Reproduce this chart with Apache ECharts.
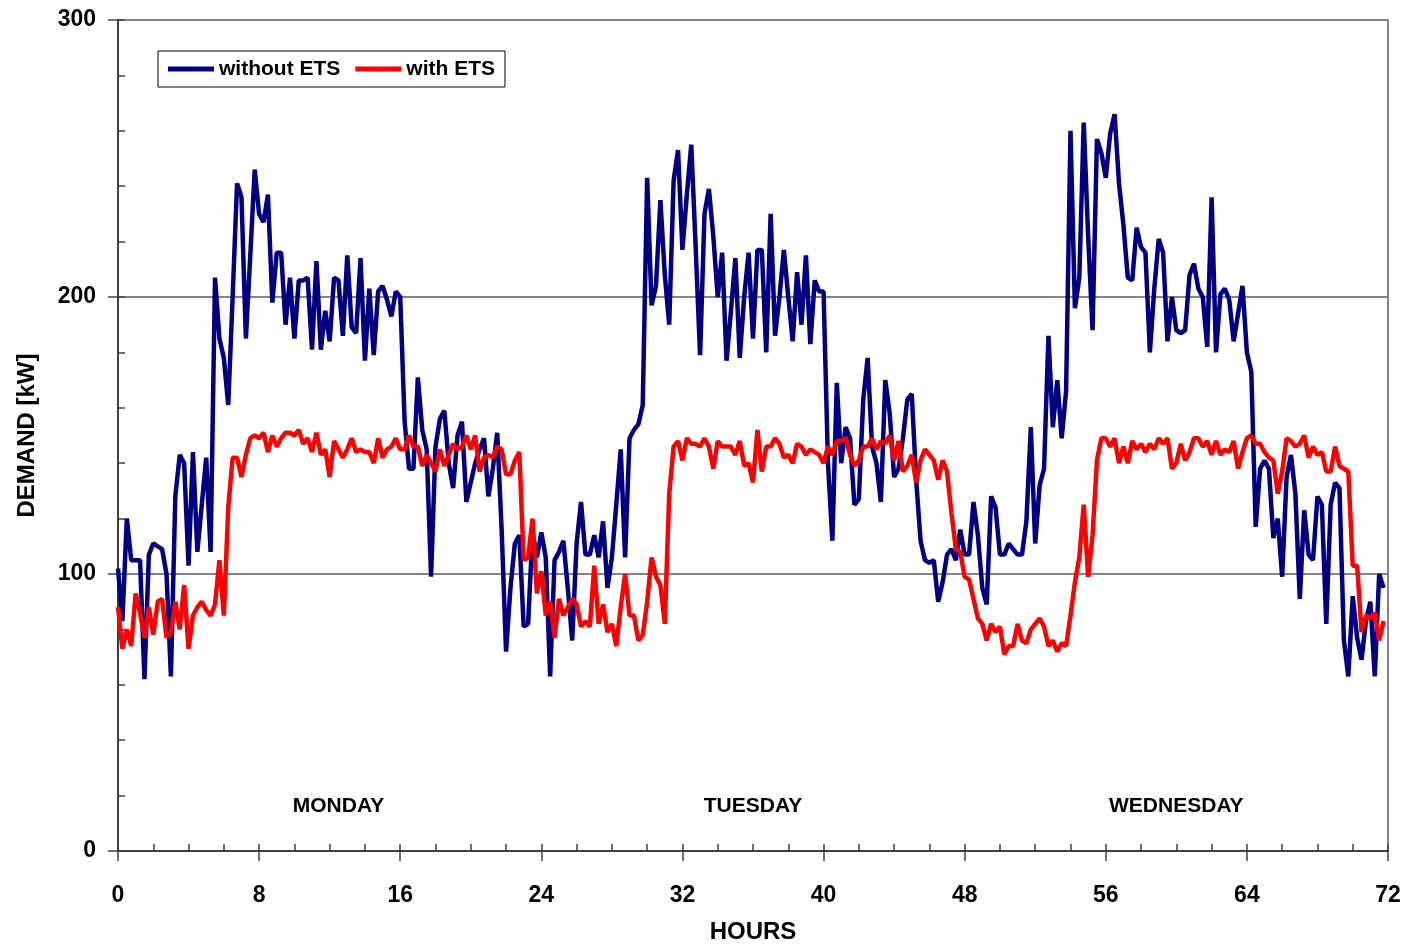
<!DOCTYPE html>
<html>
<head>
<meta charset="utf-8">
<title>Demand with and without ETS</title>
<script src="https://cdn.jsdelivr.net/npm/echarts@6/dist/echarts.min.js"></script>
<style>
  html, body { margin: 0; padding: 0; background: #fff; }
  #chart { width: 1408px; height: 946px; }
</style>
</head>
<body>
<div id="chart"></div>
<script>
// 15-minute readings, hour 0 .. 71.75 (four values per row = one hour)
const withoutEts = [
  // Monday
  102, 83, 120, 105,  105, 105, 62, 107,  111, 110, 109, 100,  63, 128, 143, 140,
  103, 144, 108, 125,  142, 108, 207, 185,  178, 161, 200, 241,  236, 185, 215, 246,
  230, 227, 237, 198,  216, 216, 190, 207,  185, 206, 206, 207,  181, 213, 181, 195,
  184, 207, 206, 186,  215, 189, 187, 214,  177, 203, 179, 202,  204, 199, 193, 202,
  200, 155, 138, 138,  171, 152, 145, 99,  146, 156, 159, 140,  131, 150, 155, 126,
  133, 140, 145, 149,  128, 138, 151, 116,  72, 95, 111, 114,  81, 82, 115, 106,
  // Tuesday
  115, 106, 63, 105,  108, 112, 95, 76,  111, 126, 107, 107,  114, 106, 119, 95,
  106, 125, 145, 106,  149, 152, 154, 161,  243, 197, 204, 235,  208, 190, 242, 253,
  217, 237, 255, 218,  179, 230, 239, 222,  200, 216, 177, 195,  214, 178, 200, 216,
  185, 217, 217, 180,  230, 186, 200, 217,  200, 184, 209, 190,  215, 183, 206, 202,
  202, 140, 112, 169,  140, 153, 149, 125,  127, 163, 178, 146,  140, 126, 170, 158,
  135, 138, 149, 163,  165, 134, 112, 105,  104, 105, 90, 97,  107, 109, 105, 116,
  // Wednesday
  107, 107, 126, 114,  95, 89, 128, 124,  107, 107, 111, 109,  107, 107, 119, 153,
  111, 132, 138, 186,  153, 170, 149, 166,  260, 196, 207, 263,  222, 188, 257, 252,
  243, 259, 266, 241,  226, 207, 206, 225,  218, 216, 180, 203,  221, 216, 184, 200,
  188, 187, 188, 208,  212, 203, 200, 182,  236, 180, 201, 203,  199, 184, 194, 204,
  180, 173, 117, 138,  141, 138, 113, 120,  99, 135, 143, 129,  91, 123, 107, 105,
  128, 125, 82, 125,  133, 131, 76, 63,  92, 77, 69, 83,  90, 63, 100, 95
];

const withEts = [
  // Monday
  88, 73, 80, 74,  93, 86, 77, 88,  78, 90, 91, 77,  79, 90, 80, 96,
  73, 85, 88, 90,  87, 85, 89, 105,  85, 124, 142, 142,  135, 143, 149, 150,
  149, 151, 144, 150,  146, 149, 151, 151,  150, 152, 147, 149,  144, 151, 143, 145,
  135, 148, 145, 142,  145, 149, 144, 145,  144, 144, 140, 149,  142, 145, 146, 149,
  145, 145, 150, 146,  146, 139, 143, 140,  137, 145, 139, 143,  147, 145, 146, 150,
  145, 150, 137, 142,  143, 142, 146, 145,  136, 136, 141, 144,  105, 106, 120, 93,
  // Tuesday
  101, 85, 90, 77,  91, 85, 88, 91,  89, 81, 83, 81,  103, 82, 89, 79,
  82, 74, 88, 100,  85, 85, 76, 78,  90, 106, 99, 96,  82, 129, 146, 148,
  141, 149, 147, 147,  146, 149, 146, 138,  148, 146, 146, 146,  143, 148, 139, 140,
  133, 152, 137, 146,  146, 149, 147, 142,  143, 140, 147, 146,  143, 145, 144, 143,
  140, 146, 143, 148,  148, 149, 143, 139,  141, 146, 146, 149,  145, 148, 147, 150,
  141, 148, 137, 139,  143, 133, 141, 145,  143, 141, 134, 141,  137, 122, 109, 108,
  // Wednesday
  99, 98, 91, 84,  82, 76, 82, 79,  81, 71, 74, 74,  82, 76, 75, 80,
  82, 84, 81, 74,  76, 72, 75, 74,  85, 97, 106, 125,  99, 114, 141, 149,
  149, 146, 149, 140,  146, 140, 148, 145,  147, 144, 147, 145,  149, 147, 149, 138,
  140, 147, 141, 144,  149, 149, 146, 148,  143, 148, 143, 145,  144, 148, 138, 144,
  149, 150, 147, 147,  144, 142, 141, 129,  137, 149, 148, 146,  147, 150, 142, 146,
  143, 144, 137, 137,  146, 139, 138, 137,  103, 103, 79, 85,  84, 86, 76, 83
];

const stepHours = 0.25;
const dayNames = ['MONDAY', 'TUESDAY', 'WEDNESDAY'];
const dayLabelHours = [12.5, 36, 60];
const dayLabelLevel = 16;

const FONT = "'Liberation Sans', Arial, sans-serif";
const AXIS = '#404040';
const GRID = '#858585';

const toPairs = (arr) => arr.map((v, i) => [i * stepHours, v]);

const chart = echarts.init(document.getElementById('chart'), null, { renderer: 'canvas' });

const option = {
  animation: false,
  backgroundColor: '#ffffff',
  grid: {
    left: 118, right: 20, top: 20, bottom: 95,
    outerBoundsMode: 'none',
    containLabel: false,
    show: true, borderColor: GRID, borderWidth: 2, backgroundColor: 'transparent'
  },
  legend: {
    data: ['without ETS', 'with ETS'],
    left: 158, top: 51,
    orient: 'horizontal',
    icon: 'rect',
    itemWidth: 46, itemHeight: 5, itemGap: 15,
    padding: [4, 10, 4, 10],
    borderColor: '#000', borderWidth: 1, backgroundColor: '#fff',
    textStyle: { fontFamily: FONT, fontSize: 21, fontWeight: 'bold', color: '#000', lineHeight: 28 }
  },
  xAxis: [
    {
      type: 'value', min: 0, max: 72, interval: 8,
      position: 'bottom',
      name: 'HOURS', nameLocation: 'middle', nameGap: 69,
      nameTextStyle: { fontFamily: FONT, fontSize: 24, fontWeight: 'bold', color: '#000' },
      axisLine: { show: true, onZero: false, lineStyle: { color: AXIS, width: 2 } },
      axisTick: { show: true, inside: false, length: 10, lineStyle: { color: AXIS, width: 1.5 } },
      axisLabel: { margin: 33, fontFamily: FONT, fontSize: 23, fontWeight: 'bold', color: '#000' },
      splitLine: { show: false }
    },
    {
      type: 'value', min: 0, max: 72, interval: 2,
      position: 'bottom',
      axisLine: { show: false },
      axisTick: { show: true, inside: true, length: 7, lineStyle: { color: AXIS, width: 1.5 } },
      axisLabel: { show: false },
      splitLine: { show: false }
    }
  ],
  yAxis: [
    {
      type: 'value', min: 0, max: 300, interval: 100,
      position: 'left',
      name: 'DEMAND [kW]', nameLocation: 'middle', nameGap: 79,
      nameTextStyle: { fontFamily: FONT, fontSize: 24, fontWeight: 'bold', color: '#000' },
      axisLine: { show: true, onZero: false, lineStyle: { color: AXIS, width: 2 } },
      axisTick: { show: true, inside: false, length: 10, lineStyle: { color: AXIS, width: 1.5 } },
      axisLabel: { margin: 22, fontFamily: FONT, fontSize: 23, fontWeight: 'bold', color: '#000' },
      splitLine: { show: true, lineStyle: { color: GRID, width: 2 } }
    },
    {
      type: 'value', min: 0, max: 300, interval: 20,
      position: 'left',
      axisLine: { show: false },
      axisTick: { show: true, inside: true, length: 7, lineStyle: { color: AXIS, width: 1.5 } },
      axisLabel: { show: false },
      splitLine: { show: false }
    }
  ],
  series: [
    {
      name: 'without ETS',
      type: 'line',
      xAxisIndex: 0, yAxisIndex: 0,
      data: toPairs(withoutEts),
      symbol: 'none',
      color: '#000080',
      lineStyle: { color: '#000080', width: 4.5 }
    },
    {
      name: 'with ETS',
      type: 'line',
      xAxisIndex: 0, yAxisIndex: 0,
      data: toPairs(withEts),
      symbol: 'none',
      color: '#ff0000',
      lineStyle: { color: '#ff0000', width: 4.5 }
    },
    {
      name: 'days',
      type: 'scatter',
      xAxisIndex: 0, yAxisIndex: 0,
      silent: true,
      symbolSize: 0,
      itemStyle: { opacity: 1 },
      data: dayNames.map((d, i) => [dayLabelHours[i], dayLabelLevel, d]),
      label: {
        show: true,
        position: 'inside',
        opacity: 1,
        formatter: (p) => p.data[2],
        fontFamily: FONT, fontSize: 21, fontWeight: 'bold', color: '#000000',
        textBorderWidth: 0
      }
    }
  ]
};

chart.setOption(option);
</script>
</body>
</html>
